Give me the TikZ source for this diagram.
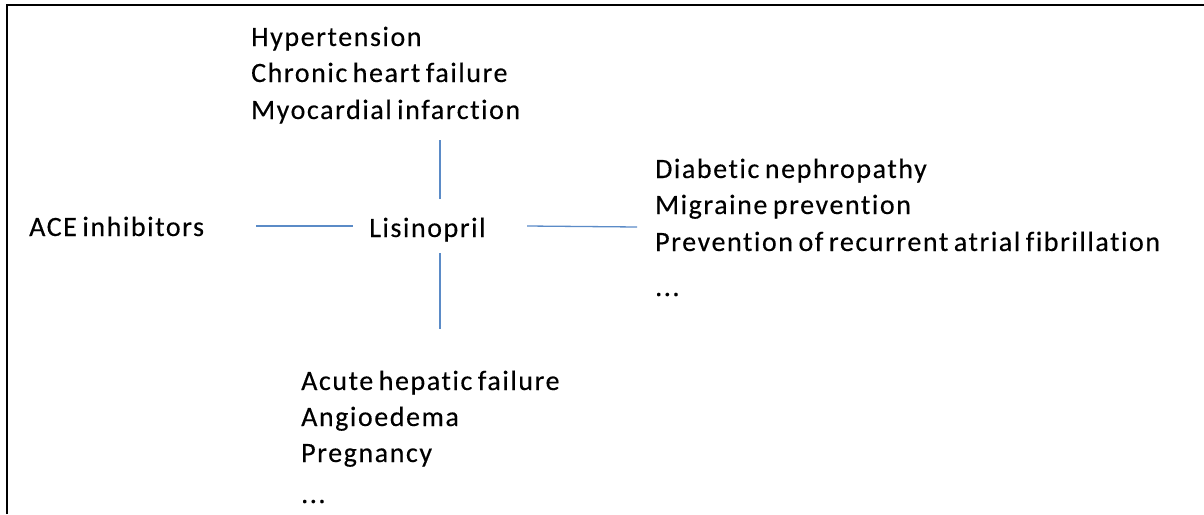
\documentclass[tikz,border=0pt]{standalone}
\usepackage{fontspec}
\setmainfont{Carlito}[LetterSpace=5.6,WordSpace=0.7,Ligatures=NoCommon,FakeBold=0.3]
\definecolor{linkblue}{HTML}{5B8BC7}
\begin{document}
\begin{tikzpicture}[x=1pt,y=-1pt,
  lbl/.style={anchor=base west,inner sep=0pt,font=\fontsize{28}{34}\selectfont},
  link/.style={draw=linkblue,line width=1.3pt}]
\useasboundingbox (0,0) rectangle (1204,514);
% open frame: top and left edges only
\draw[line width=2.2pt] (7,514) -- (7,5) -- (1204,5);

% centre drug and its class
\node[lbl] (lis) at (369,237) {Lisinopril};
\node[lbl] (ace) at (29,236) {ACE inhibitors};

% indications (top)
\node[lbl] (ind1) at (251,46) {Hypertension};
\node[lbl] (ind2) at (251,82) {Chronic heart failure};
\node[lbl] (ind3) at (251,119) {Myocardial infarction};

% other uses (right)
\node[lbl] (oth1) at (655,178) {Diabetic nephropathy};
\node[lbl] (oth2) at (655,214) {Migraine prevention};
\node[lbl] (oth3) at (655,251) {Prevention of recurrent atrial fibrillation};
\node[lbl] (oth4) at (655,296) {...};

% contraindications (bottom)
\node[lbl] (con1) at (301,390) {Acute hepatic failure};
\node[lbl] (con2) at (301,426) {Angioedema};
\node[lbl] (con3) at (301,462) {Pregnancy};
\node[lbl] (con4) at (301,503) {...};

% connector end points
\coordinate (aceR) at (256,226);
\coordinate (lisL) at (353,226);
\coordinate (lisT) at (440,199);
\coordinate (indB) at (440,140);
\coordinate (lisB) at (440,253);
\coordinate (conT) at (440,329);
\coordinate (lisR) at (527,226);
\coordinate (othL) at (637,227);

\draw[link] (aceR) -- (lisL);
\draw[link] (lisT) -- (indB);
\draw[link] (lisB) -- (conT);
\draw[link] (lisR) -- (othL);
\end{tikzpicture}
\end{document}
